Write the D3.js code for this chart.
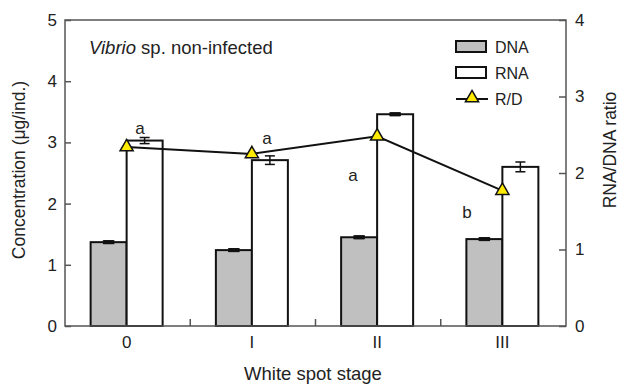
<!DOCTYPE html>
<html>
<head>
<meta charset="utf-8">
<script src="https://cdn.jsdelivr.net/npm/d3@7"></script>
<style>
  body { margin: 0; background: #fff; }
  svg text { font-family: "Liberation Sans", Arial, sans-serif; fill: #222; }
</style>
</head>
<body>
<svg id="chart" width="619" height="384"></svg>
<script>
// data
const stages = ['0', 'I', 'II', 'III'];
const dna = [1.37, 1.24, 1.45, 1.42];
const dnaErr = [0.02, 0.02, 0.02, 0.02];
const rna = [3.03, 2.71, 3.46, 2.60];
const rnaErr = [0.05, 0.07, 0.02, 0.08];
const ratio = [2.34, 2.25, 2.48, 1.77];
const letters = ['a', 'a', 'a', 'b'];
const leftTicks = [0, 1, 2, 3, 4, 5];
const rightTicks = [0, 1, 2, 3, 4];

const svg = d3.select('#chart');
const margin = { top: 20, right: 53, bottom: 58, left: 65 };
const width = 619 - margin.left - margin.right;
const height = 384 - margin.top - margin.bottom;

const g = svg.append('g').attr('transform', `translate(${margin.left},${margin.top})`);

const x = d3.scaleBand().domain(stages).range([0, width]);
const y = d3.scaleLinear().domain([0, 5]).range([height, 0]);
const y2 = d3.scaleLinear().domain([0, 4]).range([height, 0]);
const barW = 36;
const cx = d => x(d) + x.bandwidth() / 2 - 1;

// bars
stages.forEach((s, i) => {
  g.append('rect')
    .attr('x', cx(s) - barW).attr('y', y(dna[i]))
    .attr('width', barW).attr('height', height - y(dna[i]))
    .attr('fill', '#c0c0c0').attr('stroke', '#111').attr('stroke-width', 2);
  g.append('rect')
    .attr('x', cx(s)).attr('y', y(rna[i]))
    .attr('width', barW).attr('height', height - y(rna[i]))
    .attr('fill', '#fff').attr('stroke', '#111').attr('stroke-width', 2);
});

// error bars
function errBar(xc, v, e) {
  const eb = g.append('g').attr('stroke', '#111').attr('stroke-width', 1.5);
  eb.append('line').attr('x1', xc).attr('x2', xc).attr('y1', y(v - e)).attr('y2', y(v + e));
  [v - e, v + e].forEach(t => eb.append('line')
    .attr('x1', xc - 5).attr('x2', xc + 5).attr('y1', y(t)).attr('y2', y(t)));
  if (e < 0.03) {
    eb.append('rect').attr('x', xc - 5).attr('width', 10)
      .attr('y', y(v + e)).attr('height', y(v - e) - y(v + e)).attr('fill', '#111');
  }
}
stages.forEach((s, i) => {
  errBar(cx(s) - barW / 2, dna[i], dnaErr[i]);
  errBar(cx(s) + barW / 2, rna[i], rnaErr[i]);
});

// frame
const axisCol = '#555';
g.append('rect').attr('width', width).attr('height', height)
  .attr('fill', 'none').attr('stroke', axisCol).attr('stroke-width', 1.5);

// left axis
const yAxis = g.append('g')
  .call(d3.axisLeft(y).tickValues(leftTicks).tickFormat(d3.format('d')).tickSize(-6).tickPadding(8));
// right axis
const y2Axis = g.append('g').attr('transform', `translate(${width},0)`)
  .call(d3.axisRight(y2).tickValues(rightTicks).tickFormat(d3.format('d')).tickSize(-7).tickPadding(9));
// bottom axis: labels at centers, minor ticks at band edges
const xAxis = g.append('g').attr('transform', `translate(0,${height})`)
  .call(d3.axisBottom(x).tickSize(0).tickPadding(10));
xAxis.selectAll('.tick').attr('transform', d => `translate(${cx(d)},0)`);
g.append('g').selectAll('line').data(stages.slice(1)).join('line')
  .attr('x1', d => x(d)).attr('x2', d => x(d))
  .attr('y1', height).attr('y2', height - 7)
  .attr('stroke', axisCol).attr('stroke-width', 1.5);

[yAxis, y2Axis, xAxis].forEach(a => {
  a.attr('font-size', null).attr('font-family', null);
  a.select('.domain').remove();
  a.selectAll('.tick line').attr('stroke', axisCol).attr('stroke-width', 1.5);
  a.selectAll('.tick text').attr('font-size', 17).attr('fill', '#222');
});

// R/D line
const line = d3.line().x((d, i) => cx(stages[i])).y(d => y2(d));
g.append('path').datum(ratio).attr('d', line)
  .attr('fill', 'none').attr('stroke', '#111').attr('stroke-width', 2);
const tri = d3.symbol().type(d3.symbolTriangle).size(75);
g.selectAll('.tri').data(ratio).join('path')
  .attr('transform', (d, i) => `translate(${cx(stages[i])},${y2(d)})`)
  .attr('d', tri).attr('fill', '#ffea00').attr('stroke', '#111').attr('stroke-width', 1.5);

// significance letters
const letterPos = [[140, 128], [267, 138], [353, 175], [467, 212]];
letters.forEach((l, i) => {
  svg.append('text').attr('x', letterPos[i][0]).attr('y', letterPos[i][1] + 6)
    .attr('text-anchor', 'middle').attr('font-size', 17).text(l);
});

// panel title
const title = svg.append('text').attr('x', 89).attr('y', 54).attr('font-size', 18.5);
title.append('tspan').attr('font-style', 'italic').text('Vibrio');
title.append('tspan').text(' sp. non-infected');

// legend
const lg = svg.append('g').attr('transform', 'translate(456,0)');
lg.append('rect').attr('x', 0).attr('y', 41).attr('width', 30).attr('height', 11)
  .attr('fill', '#c0c0c0').attr('stroke', '#111').attr('stroke-width', 2);
lg.append('text').attr('x', 39).attr('y', 53).attr('font-size', 16).text('DNA');
lg.append('rect').attr('x', 0).attr('y', 67).attr('width', 30).attr('height', 11)
  .attr('fill', '#fff').attr('stroke', '#111').attr('stroke-width', 2);
lg.append('text').attr('x', 39).attr('y', 79).attr('font-size', 16).text('RNA');
lg.append('line').attr('x1', 0).attr('x2', 32).attr('y1', 99).attr('y2', 99)
  .attr('stroke', '#111').attr('stroke-width', 2);
lg.append('path').attr('transform', 'translate(16,98)').attr('d', tri)
  .attr('fill', '#ffea00').attr('stroke', '#111').attr('stroke-width', 1.5);
lg.append('text').attr('x', 39).attr('y', 105).attr('font-size', 16).text('R/D');

// axis titles
svg.append('text').attr('x', 313).attr('y', 380).attr('text-anchor', 'middle')
  .attr('font-size', 18.5).text('White spot stage');
svg.append('text').attr('transform', 'translate(25,170) rotate(-90)')
  .attr('text-anchor', 'middle').attr('font-size', 17.5).text('Concentration (μg/ind.)');
svg.append('text').attr('transform', 'translate(616,150) rotate(-90)')
  .attr('text-anchor', 'middle').attr('font-size', 17.5).text('RNA/DNA ratio');
</script>
</body>
</html>
